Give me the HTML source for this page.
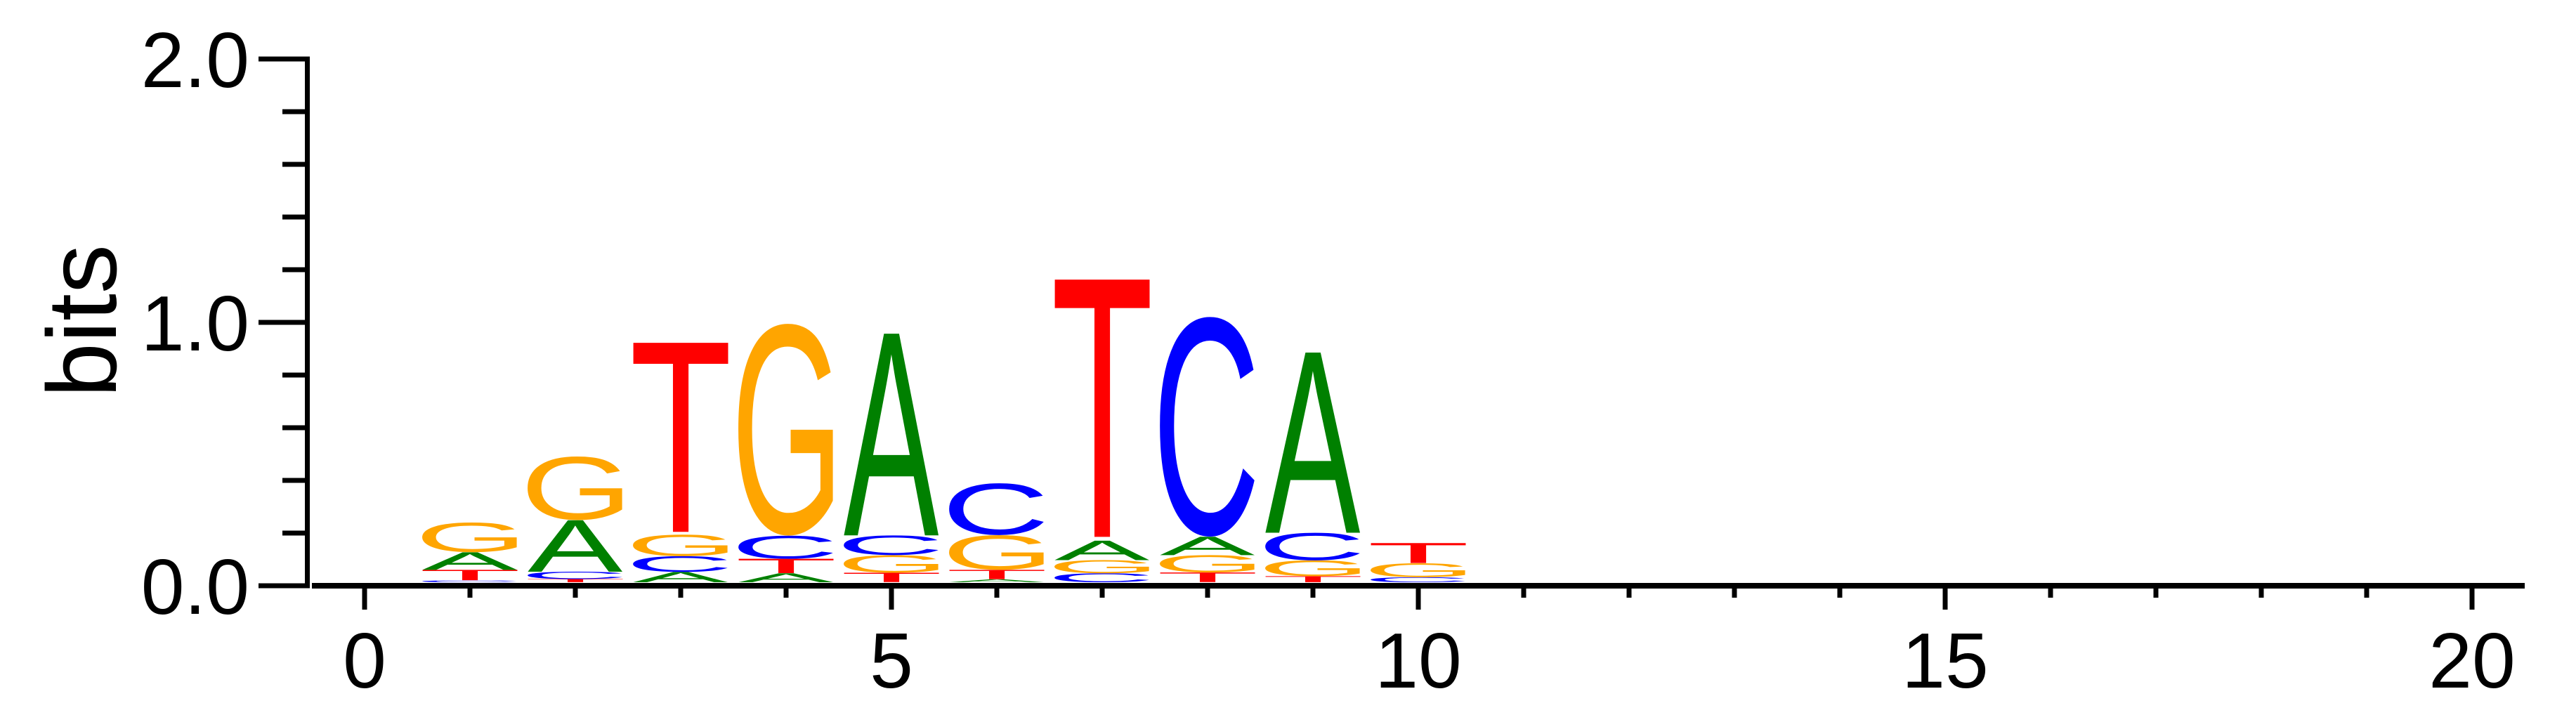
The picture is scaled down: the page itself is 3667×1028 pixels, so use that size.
<!DOCTYPE html>
<html><head><meta charset="utf-8"><style>
html,body{margin:0;padding:0;background:#fff;}
svg{display:block;}
text{font-family:"Liberation Sans",Arial,sans-serif;}
</style></head><body>
<svg id="chart" width="3667" height="1028" viewBox="0 0 3667 1028" xmlns="http://www.w3.org/2000/svg">
<g id="axes"></g>
<g id="logo"></g>
<text x="0" y="0" font-size="140" text-anchor="middle" transform="translate(165 457) rotate(-90)">bits</text>
</svg>
<script>
const positions = [1,2,3,4,5,6,7,8,9,10];
const aVals = [0.067,0.196,0.039,0.034,0.768,0.011,0.074,0.070,0.686,0.000];
const cVals = [0.007,0.028,0.060,0.088,0.075,0.197,0.034,0.836,0.105,0.019];
const gVals = [0.113,0.242,0.082,0.806,0.067,0.132,0.050,0.066,0.060,0.053];
const tVals = [0.040,0.012,0.730,0.055,0.036,0.036,0.994,0.037,0.023,0.077];
const yTicks = [0,1,2];
const yTickLabels = ["0.0","1.0","2.0"];
const xTicks = [0,1,2,3,4,5,6,7,8,9,10,11,12,13,14,15,16,17,18,19,20];
const xLabels = [0,5,10,15,20];

const NS="http://www.w3.org/2000/svg";
const X0=519, XU=150, BASE=829, YU=375, AXY=834;
function xs(v){return X0+v*XU;}
function ys(v){return AXY-v*YU;}
function el(tag,attrs,parent){const e=document.createElementNS(NS,tag);for(const k in attrs)e.setAttribute(k,attrs[k]);parent.appendChild(e);return e;}

const axes=document.getElementById('axes');
// y axis
let yl=el('rect',{x:434,y:ys(2)-3.5,width:7,height:ys(0)-ys(2)+7,fill:'#000'},axes);


for(let v=0; v<=10; v++){
  const val=v*0.2, major=(v%5===0);
  const t=el('rect',{x:major?368:402,y:ys(val)-3.5,width:major?73:39,height:7,fill:'#000'},axes);
  
  
}
yTicks.forEach((v,i)=>{
  const t=el('text',{x:355,y:ys(v)+40,'font-size':111,'text-anchor':'end',fill:'#000'},axes);
  t.textContent=yTickLabels[i];
  
  
});
// x axis
let xl=el('rect',{x:444,y:AXY-4,width:3594-444,height:8,fill:'#000'},axes);


xTicks.forEach(v=>{
  const major=(v%5===0);
  const t=el('rect',{x:xs(v)-3.5,y:AXY,width:7,height:major?34:17,fill:'#000'},axes);
  
  
});
xLabels.forEach(v=>{
  const t=el('text',{x:xs(v),y:979,'font-size':111,'text-anchor':'middle',fill:'#000'},axes);
  t.textContent=String(v);
  
  
});

// letter metrics
const cv=document.createElement('canvas').getContext('2d');
cv.font='100px "Liberation Sans", Arial, sans-serif';
const metrics={};
['A','C','G','T'].forEach(L=>{
  const m=cv.measureText(L);
  let left=m.actualBoundingBoxLeft, right=m.actualBoundingBoxRight, asc=m.actualBoundingBoxAscent, desc=m.actualBoundingBoxDescent;
  if(!(right>0)||!(asc>0)){left=-3;right=64;asc=72;desc=1;}
  metrics[L]={left,right,asc,desc};
});
const colors={A:'#008000',C:'#0000ff',G:'#ffa500',T:'#ff0000'};
const logo=document.getElementById('logo');
const W=136;
positions.forEach((p,i)=>{
  const col=[['A',aVals[i]],['C',cVals[i]],['G',gVals[i]],['T',tVals[i]]].sort((a,b)=>a[1]-b[1]);
  let y=BASE;
  col.forEach(([L,v])=>{
    if(v<=0)return;
    const h=v*YU, m=metrics[L];
    const iw=m.right+m.left, ih=m.asc+m.desc;
    const sx=W/iw, sy=h/ih;
    const top=y-h, x0=xs(p)-W/2;
    const t=el('text',{x:0,y:0,'font-size':100,fill:colors[L],
      transform:`translate(${x0} ${top}) scale(${sx} ${sy}) translate(${m.left} ${m.asc})`},logo);
    t.textContent=L;
    
    
    y=top;
  });
});
</script>
</body></html>
